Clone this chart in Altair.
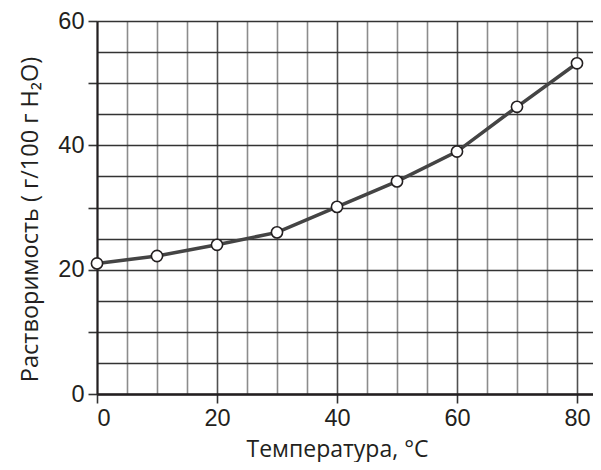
import altair as alt
import pandas as pd

temperature = [0, 10, 20, 30, 40, 50, 60, 70, 80]
solubility = [21.0, 22.2, 24.0, 26.0, 30.1, 34.2, 39.0, 46.2, 53.2]

x_ticks = list(range(0, 85, 5))
y_ticks = list(range(0, 65, 5))

df = pd.DataFrame({"t": temperature, "s": solubility})

x_enc = alt.X(
    "t:Q",
    scale=alt.Scale(domain=[0, 82.67], nice=False, zero=False),
    axis=alt.Axis(
        values=x_ticks,
        title="Температура, °C",
        titleFont="Open Sans",
        titleFontSize=23,
        titleFontWeight="normal",
        titleColor="#231f20",
        titleX=240,
        titleY=62,
        titleAlign="center",
        titleBaseline="alphabetic",
        labelExpr="datum.value % 20 === 0 ? datum.label : ''",
        labelFont="Liberation Sans",
        labelFontSize=23.5,
        labelColor="#231f20",
        labelPadding=3,
        labelOverlap=False,
        tickSize=9,
        tickColor="#333333",
        tickWidth=1.6,
        tickOpacity={"condition": {"test": "datum.value % 20 === 0", "value": 1}, "value": 0},
        grid=True,
        gridColor={"condition": {"test": "datum.value % 20 === 0", "value": "#505050"}, "value": "#8c8c8c"},
        gridWidth=1.6,
        gridOpacity=1,
        domainColor="#231f20",
        domainWidth=2.5,
    ),
)

y_enc = alt.Y(
    "s:Q",
    scale=alt.Scale(domain=[0, 60], nice=False),
    axis=alt.Axis(
        values=y_ticks,
        title="Растворимость ( г/100 г H₂O)",
        titleFont="Open Sans",
        titleFontSize=23.5,
        titleFontWeight="normal",
        titleColor="#231f20",
        titleX=-67,
        titleY=198,
        titleAngle=270,
        titleAlign="center",
        titleBaseline="middle",
        labelExpr="datum.value % 20 === 0 ? datum.label : ''",
        labelFont="Liberation Sans",
        labelFontSize=23.5,
        labelColor="#231f20",
        labelPadding=4,
        labelOverlap=False,
        tickSize=9,
        tickColor="#333333",
        tickWidth=1.6,
        tickOpacity={"condition": {"test": "datum.value % 10 === 0", "value": 1}, "value": 0},
        grid=True,
        gridColor="#333333",
        gridWidth=1.3,
        gridOpacity=1,
        domainColor="#231f20",
        domainWidth=2,
    ),
)

base = alt.Chart(df).encode(x=x_enc, y=y_enc)
line = base.mark_line(color="#444444", strokeWidth=3.5)
points = base.mark_point(
    filled=True, fill="white", stroke="#231f20", strokeWidth=1.6, size=125, opacity=1
)

chart = (
    alt.layer(line, points)
    .properties(
        width=496,
        height=373,
        autosize=alt.AutoSizeParams(type="none"),
        padding={"left": 89, "top": 13, "right": 0, "bottom": 68},
    )
    .configure_view(stroke=None)
)

chart.save("out.html", embed_options={"renderer": "svg", "actions": False})
